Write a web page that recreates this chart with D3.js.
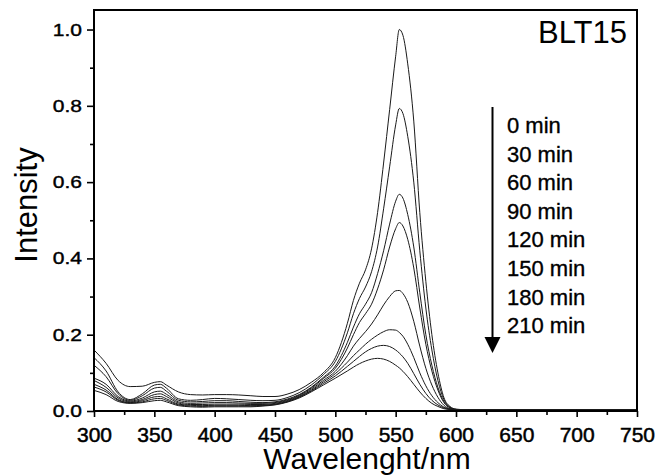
<!DOCTYPE html>
<html>
<head>
<meta charset="utf-8">
<script src="https://cdn.jsdelivr.net/npm/d3@7"></script>
<style>
  html, body { margin: 0; padding: 0; background: #fff; }
  svg text { font-family: "Liberation Sans", Arial, sans-serif; fill: #000; }
</style>
</head>
<body>
<svg id="chart" width="658" height="475"></svg>
<script>
// Wavelength grid (nm) shared by all spectra
const wavelengths = [300,310,320,330,340,350,355,360,370,380,390,400,410,420,430,440,450,460,470,480,490,500,510,515,520,525,530,535,540,545,550,553,556,560,565,570,575,580,585,590,595,600,610,650,700,750];

const timeLabels = ["0 min","30 min","60 min","90 min","120 min","150 min","180 min","210 min"];

// Normalised absorbance of each sample, one array per irradiation time
const s0min   = [.160,.125,.080,.064,.065,.075,.077,.068,.050,.043,.042,.043,.043,.042,.040,.038,.038,.044,.056,.075,.100,.140,.230,.290,.335,.370,.425,.520,.650,.790,.930,1.000,.985,.910,.760,.520,.340,.200,.100,.035,.012,.005,.003,.003,.003,.003];
const s30min  = [.140,.105,.050,.030,.045,.068,.070,.060,.032,.028,.030,.033,.032,.030,.028,.027,.028,.035,.048,.068,.095,.130,.205,.255,.295,.325,.365,.430,.530,.640,.750,.793,.780,.720,.600,.420,.270,.160,.080,.030,.010,.004,.003,.003,.003,.003];
const s60min  = [.120,.090,.045,.028,.040,.060,.062,.052,.028,.024,.025,.027,.027,.025,.023,.022,.024,.031,.043,.062,.088,.118,.180,.220,.255,.280,.310,.360,.420,.490,.550,.568,.558,.515,.430,.310,.200,.120,.062,.025,.009,.004,.003,.003,.003,.003];
const s90min  = [.086,.070,.038,.026,.034,.050,.052,.044,.024,.020,.021,.022,.022,.021,.020,.020,.022,.029,.041,.060,.085,.112,.165,.200,.232,.255,.280,.320,.370,.430,.478,.494,.485,.450,.375,.270,.175,.105,.055,.022,.008,.004,.003,.003,.003,.003];
const s120min = [.080,.062,.034,.024,.030,.043,.045,.038,.021,.017,.017,.018,.018,.018,.017,.017,.020,.027,.039,.057,.080,.104,.145,.170,.190,.208,.228,.252,.278,.300,.315,.316,.308,.285,.235,.170,.112,.068,.036,.015,.006,.004,.003,.003,.003,.003];
const s150min = [.070,.055,.030,.022,.027,.037,.038,.032,.018,.015,.014,.015,.015,.015,.014,.015,.018,.025,.037,.054,.076,.098,.128,.145,.160,.175,.188,.199,.208,.213,.212,.206,.196,.175,.140,.100,.066,.040,.022,.010,.005,.003,.003,.003,.003,.003];
const s180min = [.063,.050,.028,.021,.024,.032,.033,.028,.016,.013,.012,.013,.013,.013,.013,.014,.017,.024,.036,.052,.072,.092,.117,.130,.143,.155,.164,.170,.172,.169,.160,.152,.142,.125,.098,.070,.046,.028,.016,.008,.004,.003,.003,.003,.003,.003];
const s210min = [.054,.043,.025,.020,.022,.027,.028,.024,.014,.011,.010,.011,.011,.011,.011,.013,.016,.023,.034,.050,.068,.086,.105,.115,.124,.131,.136,.138,.136,.130,.120,.113,.104,.090,.070,.050,.033,.020,.012,.006,.004,.003,.003,.003,.003,.003];

const spectra = [s0min, s30min, s60min, s90min, s120min, s150min, s180min, s210min];

const xMajor = [300,350,400,450,500,550,600,650,700,750];
const xMinor = [325,375,425,475,525,575,625,675,725];
const yMajor = [0.0,0.2,0.4,0.6,0.8,1.0];
const yMinor = [0.1,0.3,0.5,0.7,0.9];

const svg = d3.select("#chart");
const plot = { left: 94, right: 637, top: 10, bottom: 411 };

const x = d3.scaleLinear().domain([300, 750]).range([plot.left, plot.right]);
const y = d3.scaleLinear().domain([0, 1.0512]).range([plot.bottom, plot.top]);

// Spectra
const line = d3.line()
  .x((d, i) => x(wavelengths[i]))
  .y(d => y(d))
  .curve(d3.curveMonotoneX);

svg.append("g")
  .selectAll("path")
  .data(spectra)
  .join("path")
  .attr("d", line)
  .attr("fill", "none")
  .attr("stroke", "#1a1a1a")
  .attr("stroke-width", 1);

// Minor ticks
svg.append("g")
  .attr("transform", `translate(0,${plot.bottom})`)
  .call(d3.axisBottom(x).tickValues(xMinor).tickSize(4).tickFormat(""))
  .call(g => g.select(".domain").remove())
  .call(g => g.selectAll("line").attr("stroke-width", 1.6));

svg.append("g")
  .attr("transform", `translate(${plot.left},0)`)
  .call(d3.axisLeft(y).tickValues(yMinor).tickSize(4).tickFormat(""))
  .call(g => g.select(".domain").remove())
  .call(g => g.selectAll("line").attr("stroke-width", 1.6));

// Major ticks with labels
svg.append("g")
  .attr("transform", `translate(0,${plot.bottom})`)
  .call(d3.axisBottom(x).tickValues(xMajor).tickSize(6).tickPadding(10).tickFormat(d3.format("d")))
  .call(g => g.select(".domain").remove())
  .call(g => g.selectAll("line").attr("stroke-width", 1.6))
  .call(g => g.selectAll("text")
    .attr("font-size", 21)
    .attr("font-family", "'Liberation Sans', Arial, sans-serif")
    .attr("stroke", "#000").attr("stroke-width", 0.5));

svg.append("g")
  .attr("transform", `translate(${plot.left},0)`)
  .call(d3.axisLeft(y).tickValues(yMajor).tickSize(7).tickPadding(5).tickFormat(d3.format(".1f")))
  .call(g => g.select(".domain").remove())
  .call(g => g.selectAll("line").attr("stroke-width", 1.6))
  .call(g => g.selectAll("text")
    .attr("font-size", 21)
    .attr("font-family", "'Liberation Sans', Arial, sans-serif")
    .attr("stroke", "#000").attr("stroke-width", 0.5)
    .attr("transform", "scale(1,0.82)"));

// Frame
svg.append("rect")
  .attr("x", plot.left).attr("y", plot.top)
  .attr("width", plot.right - plot.left).attr("height", plot.bottom - plot.top)
  .attr("fill", "none").attr("stroke", "#000").attr("stroke-width", 2);

// Axis titles
svg.append("text")
  .attr("transform", `translate(36.5,205) rotate(-90)`)
  .attr("text-anchor", "middle")
  .attr("font-size", 31)
  .text("Intensity");

svg.append("text")
  .attr("x", 367).attr("y", 469)
  .attr("text-anchor", "middle")
  .attr("font-size", 30)
  .text("Wavelenght/nm");

// Sample name
svg.append("text")
  .attr("x", 627).attr("y", 43)
  .attr("text-anchor", "end")
  .attr("font-size", 31)
  .text("BLT15");

// Time series legend with downward arrow
const legend = svg.append("g");
legend.append("line")
  .attr("x1", 492.5).attr("x2", 492.5)
  .attr("y1", 107).attr("y2", 340)
  .attr("stroke", "#000").attr("stroke-width", 2);
legend.append("path")
  .attr("d", "M484.5,337 L500.5,337 L492.5,353 Z")
  .attr("fill", "#000");
legend.selectAll("text.time")
  .data(timeLabels)
  .join("text")
  .attr("class", "time")
  .attr("x", 507)
  .attr("y", (d, i) => 133 + i * 28.6)
  .attr("font-size", 22)
  .attr("stroke", "#000").attr("stroke-width", 0.35)
  .text(d => d);
</script>
</body>
</html>
